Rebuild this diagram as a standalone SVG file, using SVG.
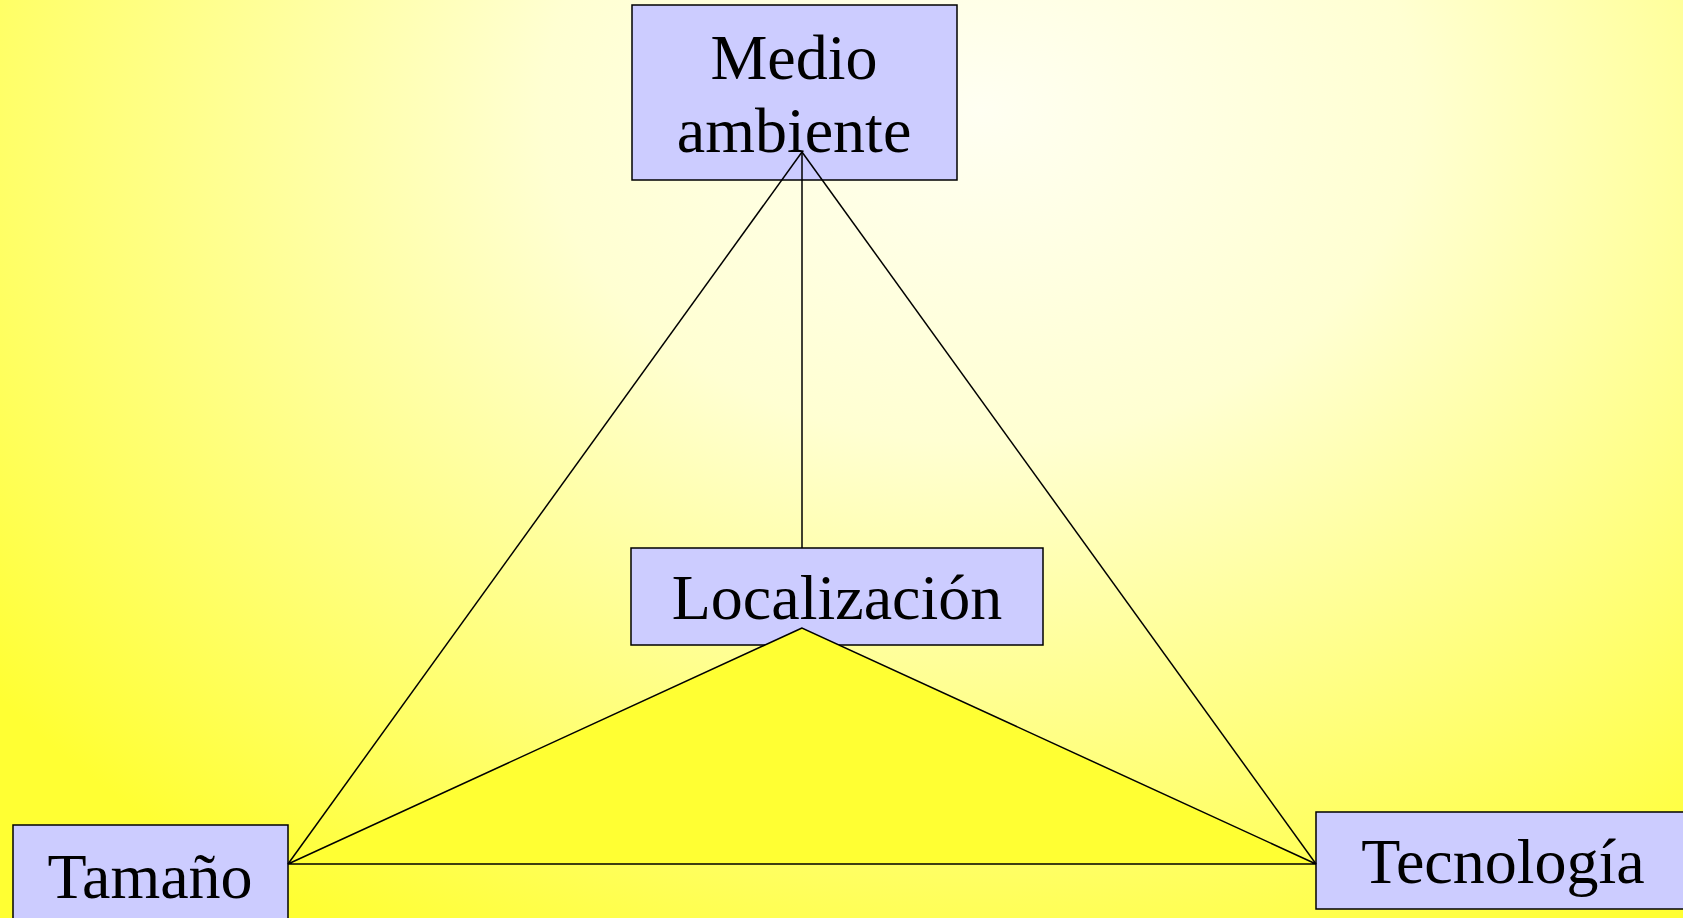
<svg xmlns="http://www.w3.org/2000/svg" width="1683" height="918" viewBox="0 0 1683 918">
<defs>
<radialGradient id="bg" gradientUnits="userSpaceOnUse" cx="980" cy="110" r="1000" gradientTransform="translate(980 110) scale(1.25 0.95) translate(-980 -110)">
<stop offset="0" stop-color="#FFFFF2"/>
<stop offset="0.35" stop-color="#FFFFD2"/>
<stop offset="0.75" stop-color="#FFFF70"/>
<stop offset="1" stop-color="#FFFF33"/>
</radialGradient>
<style>
.box{fill:#CCCCFF;stroke:#000;stroke-width:1.5}
.lbl{font-family:"Liberation Serif","Times New Roman",serif;font-size:64px;fill:#000;text-anchor:middle}
.ln{stroke:#000;stroke-width:1.5;fill:none}
</style>
</defs>
<rect x="0" y="0" width="1683" height="918" fill="url(#bg)"/>
<g id="node-medio">
<rect class="box" x="632" y="5" width="325" height="175"/>
<text class="lbl" x="794" y="79">Medio</text>
<text class="lbl" x="794" y="152">ambiente</text>
</g>
<g id="node-localizacion">
<rect class="box" x="631" y="548" width="412" height="97"/>
<text class="lbl" x="837" y="619">Localización</text>
</g>
<g id="node-tamano">
<rect class="box" x="13" y="825" width="275" height="100"/>
<text class="lbl" x="150" y="898">Tamaño</text>
</g>
<g id="node-tecnologia">
<rect class="box" x="1316" y="812" width="372" height="97"/>
<text class="lbl" x="1503" y="883">Tecnología</text>
</g>
<g id="connectors">
<polygon points="802,628 288,864 1316,864" fill="#FFFF33" stroke="#000" stroke-width="1.5"/>
<line class="ln" x1="802" y1="152" x2="288" y2="864"/>
<line class="ln" x1="802" y1="152" x2="1316" y2="864"/>
<line class="ln" x1="802" y1="152" x2="802" y2="548"/>
</g>
</svg>
